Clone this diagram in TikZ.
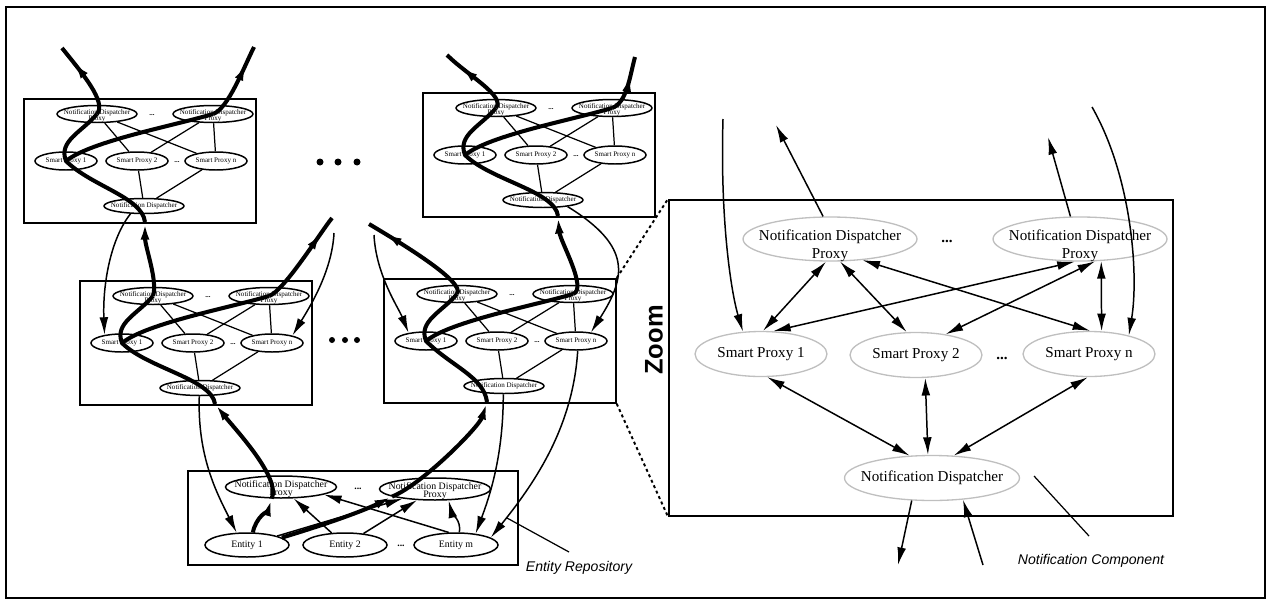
\documentclass[tikz,border=0pt]{standalone}
\usepackage{fontspec}
\setmainfont{Liberation Serif}
\setsansfont{Liberation Sans}
\usetikzlibrary{arrows.meta, shapes.geometric, decorations.markings}

\begin{document}
\begin{tikzpicture}[
    x=0.02cm, y=-0.02cm,
    >={Latex[length=10pt,width=5pt]},
    frame/.style={line width=1.1pt},
    comp/.style={draw, line width=1pt, anchor=north west, inner sep=0pt, minimum width=4.64cm, minimum height=2.48cm},
    pxy/.style={ellipse, draw, line width=0.85pt, inner sep=0pt, font=\fontsize{4}{3.6}\selectfont},
    sndp/.style={pxy, minimum width=1.6cm, minimum height=0.34cm},
    ssp/.style={pxy, minimum width=1.24cm, minimum height=0.36cm},
    snd/.style={pxy, minimum width=1.6cm, minimum height=0.3cm},
    stxt/.style={font=\fontsize{4}{3.6}\selectfont, align=center, inner sep=0pt},
    sdots/.style={inner sep=0pt, font=\fontsize{4}{4}\selectfont\bfseries},
    bpxy/.style={ellipse, draw, line width=0.85pt, inner sep=0pt, font=\fontsize{5.6}{5}\selectfont},
    bndp/.style={bpxy, minimum width=2.22cm, minimum height=0.44cm},
    bent/.style={bpxy, minimum width=1.68cm, minimum height=0.48cm},
    btxt/.style={font=\fontsize{5.6}{5}\selectfont, align=center, inner sep=0pt},
    bdots/.style={inner sep=0pt, font=\fontsize{5.6}{5.6}\selectfont\bfseries},
    zpxy/.style={ellipse, draw=black!25, line width=0.75pt, inner sep=0pt, font=\fontsize{8.6}{10.2}\selectfont},
    zndp/.style={zpxy, minimum width=3.48cm, minimum height=0.88cm},
    zsp/.style={zpxy, minimum width=2.64cm, minimum height=0.9cm},
    zdisp/.style={zpxy, minimum width=3.5cm, minimum height=0.9cm},
    ztxt/.style={font=\fontsize{8.6}{10.2}\selectfont, align=center, inner sep=0pt},
    zdots/.style={inner sep=0pt, font=\fontsize{8.6}{8.6}\selectfont\bfseries},
    plain/.style={line width=0.7pt},
    link/.style={line width=0.85pt, ->},
    zlink/.style={line width=0.85pt},
    flow/.style={line width=2.3pt},
    flowend/.style={flow, postaction={decorate},
      decoration={markings, mark=at position -0.36cm with {\arrow{Latex[length=10pt,width=5pt]}}}},
    zoomline/.style={line width=1.1pt, dash pattern=on 1.7pt off 1.7pt},
    pointer/.style={line width=0.7pt},
    note/.style={font=\sffamily\itshape\fontsize{8}{8}\selectfont, inner sep=0pt}
  ]
  \useasboundingbox (0,0) rectangle (1270,605);

  % outer frame
  \draw[frame] (6,7) rectangle (1265,598);

  % four notification components, same inner layout
  \foreach \b/\ox/\oy/\ex in {tl/23/98/122, tr/422/92/136, ml/79/280/136, mr/383/278/104} {
    \begin{scope}[shift={(\ox,\oy)}]
      \node[comp] (\b-box) at (0,0) {};
      \node[sndp, label={[stxt, yshift=-0.04cm]center:Notification Dispatcher\\Proxy}] (\b-ndp1) at (74,16) {};
      \node[sdots] (\b-dots1) at (129,17) {...};
      \node[sndp, label={[stxt, yshift=-0.04cm]center:Notification Dispatcher\\Proxy}] (\b-ndp2) at (190,16) {};
      \node[ssp] (\b-sp1) at (43,63) {Smart Proxy 1};
      \node[ssp] (\b-sp2) at (114,63) {Smart Proxy 2};
      \node[sdots] (\b-dots2) at (154,64) {...};
      \node[ssp] (\b-spn) at (193,63) {Smart Proxy n};
      \node[snd, label={[stxt]center:Notification Dispatcher}] (\b-nd) at (121,108) {};
      \coordinate (\b-in) at (\ex,124);

      \draw[plain] (\b-ndp1) -- (\b-sp2);
      \draw[plain] (\b-ndp1) -- (\b-spn);
      \draw[plain] (\b-ndp2) -- (\b-sp2);
      \draw[plain] (\b-ndp2) -- (\b-spn);
      \draw[plain] (\b-sp2) -- (\b-nd);
      \draw[plain] (\b-spn) -- (\b-nd);

      % highlighted flow inside the component
      \draw[flow] (\b-in) .. controls +(-3,-25) and +(25,25) .. (\b-sp1.center)
                  .. controls +(-8,-20) and +(-15,18) .. (\b-ndp1.center);
      \draw[flow] (\b-sp1.center) .. controls +(25,-20) and +(-40,12) .. (\b-ndp2.center);
    \end{scope}
  }

  % big dots between the components
  \foreach \dx in {320,338,357} {
    \fill (\dx,162) circle (0.07cm);
  }
  \foreach \dx in {332,345,357} {
    \fill (\dx,340) circle (0.06cm);
  }

  % loose ends
  \coordinate (tl-outl) at (62,48);
  \coordinate (tl-outr) at (254,47);
  \coordinate (tr-outl) at (447,55);
  \coordinate (tr-outr) at (635,57);
  \coordinate (ml-outr) at (332,218);
  \coordinate (mr-outl) at (369,224);
  \coordinate (ml-feed) at (334,233);
  \coordinate (mr-feed) at (374,235);

  % flows leaving the components
  \draw[flowend] (tl-ndp1.center) .. controls +(10,-12) and +(20,25) .. (tl-outl);
  \draw[flowend] (tl-ndp2.center) .. controls +(15,-5) and +(-10,20) .. (tl-outr);
  \draw[flowend] (tr-ndp1.center) .. controls +(10,-12) and +(20,20) .. (tr-outl);
  \draw[flowend] (tr-ndp2.center) .. controls +(15,-5) and +(-5,18) .. (tr-outr);
  \draw[flow, ->] (ml-ndp1.center) .. controls +(5,-15) and +(0,25) .. (tl-in);
  \draw[flowend] (ml-ndp2.center) .. controls +(15,-5) and +(-12,15) .. (ml-outr);
  \draw[flowend] (mr-ndp1.center) .. controls +(10,-12) and +(25,15) .. (mr-outl);
  \draw[flow, ->] (mr-ndp2.center) .. controls +(15,-5) and +(2,25) .. (tr-in);

  % thin links between components
  \draw[link] (tl-nd.-150) .. controls +(-20,25) and +(-2,-50) .. (ml-sp1.155);
  \draw[link] (ml-feed) .. controls +(-2,40) and +(15,-25) .. (ml-spn.20);
  \draw[link] (mr-feed) .. controls +(2,40) and +(-10,-25) .. (mr-sp1.155);
  \draw[link] (tr-nd.-15) .. controls +(65,40) and +(35,-55) .. (mr-spn.30);

  % entity repository
  \node[comp, minimum width=6.6cm, minimum height=1.88cm] (repo-box) at (187,470) {};
  \node[bndp, label={[btxt, yshift=-0.04cm]center:Notification Dispatcher\\Proxy}] (ndpa) at (281,487) {};
  \node[bdots] (dotsa) at (358,489) {...};
  \node[bndp, label={[btxt, yshift=-0.04cm]center:Notification Dispatcher\\Proxy}] (ndpb) at (435,489) {};
  \node[bent] (ent1) at (247,545) {Entity 1};
  \node[bent] (ent2) at (345,545) {Entity 2};
  \node[bdots] (dotsb) at (401,546) {...};
  \node[bent] (entm) at (456,545) {Entity m};

  \draw[link] (ent1) -- (ndpb);
  \draw[link] (ent2) -- (ndpa);
  \draw[link] (ent2) -- (ndpb);
  \draw[link] (entm.120) -- (ndpa.-10);
  \draw[link] (entm.75) .. controls +(2,-12) and +(3,12) .. (ndpb.-40);
  \draw[link] (ml-nd.-95) .. controls +(-2,60) and +(-20,-40) .. (ent1.130);
  \draw[link] (mr-nd.-95) .. controls +(0,60) and +(15,-40) .. (entm.30);
  \draw[link] (mr-spn.-80) .. controls +(-5,80) and +(40,-50) .. (entm.12);

  \draw[flow, ->] (ent1.65) .. controls +(3,-15) and +(-3,10) .. (ndpa.-129);
  \draw[flow, ->] (ndpa.-129) .. controls +(10,-20) and +(20,25) .. (ml-in);
  \draw[flow, ->] (ent1.12) .. controls +(40,-12) and +(-30,15) .. (ndpb.190);
  \draw[flow, ->] (ndpb.190) .. controls +(30,-12) and +(-8,25) .. (mr-in);
  \node[bdots, font=\fontsize{7}{7}\selectfont\bfseries] (dotsc) at (335,521) {...};

  % zoomed component
  \node[comp, minimum width=10.08cm, minimum height=6.32cm] (zbox) at (668,199) {};
  \draw[zoomline] (mr-box.north east) -- (zbox.north west);
  \draw[zoomline] (mr-box.south east) -- (zbox.south west);
  \node[rotate=90, font=\sffamily\bfseries\fontsize{14.5}{14.5}\selectfont] (zlabel) at (654,340) {Zoom};

  \node[zndp, label={[ztxt, yshift=-0.14cm]center:Notification Dispatcher\\Proxy}] (zndp1) at (830,239) {};
  \node[zdots] (zdots1) at (947,241) {...};
  \node[zndp, label={[ztxt, yshift=-0.14cm]center:Notification Dispatcher\\Proxy}] (zndp2) at (1080,239) {};
  \node[zsp] (zsp1) at (761,354) {Smart Proxy 1};
  \node[zsp] (zsp2) at (916,355) {Smart Proxy 2};
  \node[zdots] (zdots2) at (1002,358) {...};
  \node[zsp] (zspn) at (1089,354) {Smart Proxy n};
  \node[zdisp, label={[ztxt]center:Notification Dispatcher}] (znd) at (932,478) {};

  \coordinate (zfeed1) at (723,119);
  \coordinate (zfeed2) at (1092,107);
  \coordinate (zfeed3) at (983,565);
  \coordinate (zout1) at (776,125);
  \coordinate (zout2) at (1048,137);
  \coordinate (zout3) at (898,565);

  \draw[zlink, <->] (zndp1.-100) -- (zsp1.85);
  \draw[zlink, <->] (zndp1.-66) -- (zsp2.112);
  \draw[zlink, <->] (zndp1.-33) -- (zspn.87);
  \draw[zlink, <->] (zndp2.-103) -- (zsp1.62);
  \draw[zlink, <->] (zndp2.-56) -- (zsp2.35);
  \draw[zlink, <->] (zndp2.-46) -- (zspn.61);
  \draw[zlink, <->] (zsp1.-75) -- (znd.135);
  \draw[zlink, <->] (zsp2.-68) -- (znd.100);
  \draw[zlink, <->] (zspn.-93) -- (znd.46);
  \draw[zlink, ->] (zfeed1) .. controls +(-3,100) and +(-12,-40) .. (zsp1.129);
  \draw[zlink, ->] (zndp1.107) -- (zout1);
  \draw[zlink, ->] (zndp2.113) -- (zout2);
  \draw[zlink, ->] (zfeed2) .. controls +(40,70) and +(10,-60) .. (zspn.25);
  \draw[zlink, ->] (znd.-132) -- (zout3);
  \draw[zlink, ->] (zfeed3) -- (znd.-35);

  % captions
  \node[note] (repo) at (579,568) {Entity Repository};
  \coordinate (repo-pt) at (507,518);
  \coordinate (repo-tip) at (569,552);
  \draw[pointer] (repo-pt) -- (repo-tip);
  \node[note] (ncomp) at (1091,561) {Notification Component};
  \coordinate (ncomp-pt) at (1034,476);
  \coordinate (ncomp-tip) at (1089,536);
  \draw[pointer] (ncomp-pt) -- (ncomp-tip);
\end{tikzpicture}
\end{document}
